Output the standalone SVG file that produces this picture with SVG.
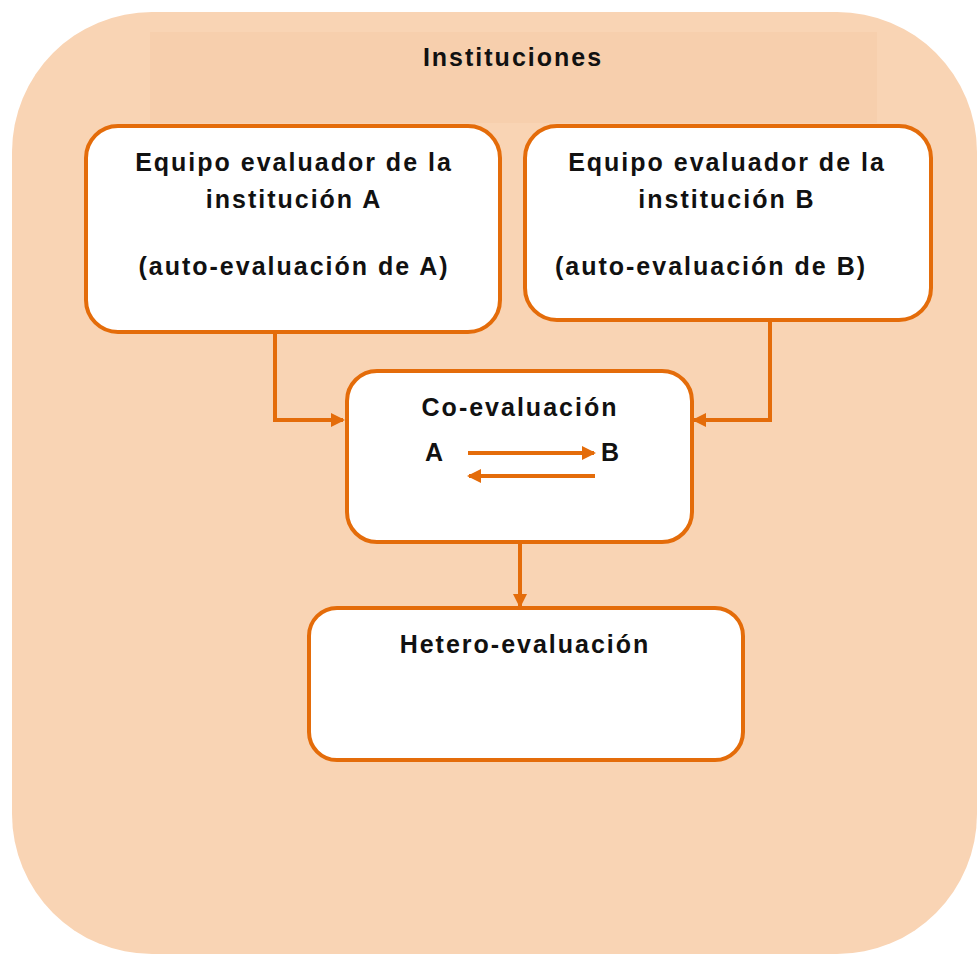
<svg xmlns="http://www.w3.org/2000/svg" width="978" height="954" viewBox="0 0 978 954">
<style>
.box{fill:#ffffff;stroke:#E46C0A;stroke-width:4}
.t{font-family:"Liberation Sans",Arial,sans-serif;font-weight:bold;font-size:25px;letter-spacing:2px;fill:#111;text-anchor:middle}
.c{fill:none;stroke:#E46C0A;stroke-width:4}
</style>
<defs>
<marker id="ahs" markerWidth="14" markerHeight="14" refX="12" refY="7" orient="auto" markerUnits="userSpaceOnUse" viewBox="0 0 14 14">
<path d="M0,0 L14,7 L0,14 z" fill="#E46C0A"/>
</marker>
</defs>
<g id="background">
<rect x="12" y="12" width="965" height="942" rx="140" ry="140" fill="#F9D4B4"/>
<rect x="150" y="32" width="727" height="91" fill="#F7CFAD"/>
<text class="t" x="513" y="66" font-size="24">Instituciones</text>
</g>
<g id="nodeA">
<rect class="box" x="86" y="126" width="414" height="206" rx="32"/>
<text class="t" x="294" y="171">Equipo evaluador de la</text>
<text class="t" x="294" y="208">institución A</text>
<text class="t" x="294" y="275">(auto-evaluación de A)</text>
</g>
<g id="nodeB">
<rect class="box" x="525" y="126" width="406" height="194" rx="32"/>
<text class="t" x="727" y="171">Equipo evaluador de la</text>
<text class="t" x="727" y="208">institución B</text>
<text class="t" x="711" y="275">(auto-evaluación de B)</text>
</g>
<g id="nodeCo">
<rect class="box" x="347" y="371" width="345" height="171" rx="30"/>
<text class="t" x="520" y="416">Co-evaluación</text>
<text class="t" x="435" y="461">A</text>
<text class="t" x="611" y="461">B</text>
</g>
<g id="nodeHetero">
<rect class="box" x="309" y="608" width="434" height="152" rx="28"/>
<text class="t" x="525" y="653">Hetero-evaluación</text>
</g>
<g id="connectors">
<path class="c" d="M275,332 V420 H343" marker-end="url(#ahs)"/>
<path class="c" d="M770,320 V420 H694" marker-end="url(#ahs)"/>
<path class="c" d="M520,542 V606" marker-end="url(#ahs)"/>
<path class="c" d="M468,453 H594" marker-end="url(#ahs)"/>
<path class="c" d="M595,476 H469" marker-end="url(#ahs)"/>
</g>
</svg>
